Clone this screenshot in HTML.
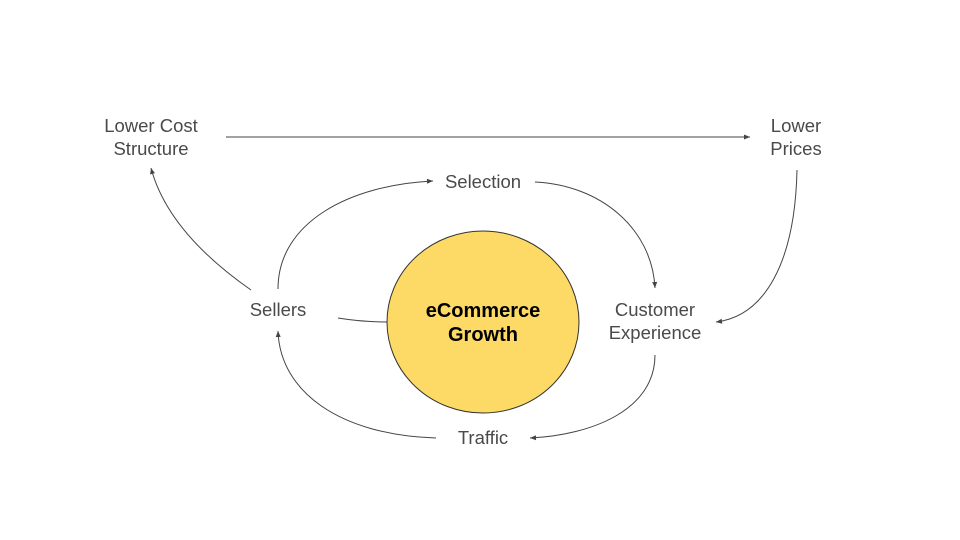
<!DOCTYPE html>
<html><head><style>
html,body{margin:0;padding:0;background:#fff;}
svg{display:block;}
text{font-family:"Liberation Sans",Arial,sans-serif;font-size:18.5px;fill:#4a4a4a;text-anchor:middle;}
</style></head><body>
<svg width="960" height="540" viewBox="0 0 960 540" xmlns="http://www.w3.org/2000/svg">
<defs>
<marker id="a" markerWidth="8" markerHeight="8" refX="7" refY="4" orient="auto" markerUnits="userSpaceOnUse">
<path d="M1,1.5 L7,4 L1,6.5 Z" fill="#444"/>
</marker>
</defs>
<g fill="none" stroke="#444" stroke-width="1">
<path d="M226,137 L750,137" marker-end="url(#a)"/>
<path d="M251,290 Q168,232 151,168" marker-end="url(#a)"/>
<path d="M278,289 C278,222 350,185 433,181" marker-end="url(#a)"/>
<path d="M535,182 C600,185 652,228 655,288" marker-end="url(#a)"/>
<path d="M797,170 C795,262 765,316 716,322" marker-end="url(#a)"/>
<path d="M655,355 C655,410 592,435 530,438" marker-end="url(#a)"/>
<path d="M436,438 C340,435 280,392 278,331" marker-end="url(#a)"/>
<path d="M338,318 Q362,322 388,322"/>
</g>
<ellipse cx="483" cy="322" rx="96" ry="91" fill="#fdd966" stroke="#333" stroke-width="1"/>
<text x="151" y="132">Lower Cost</text>
<text x="151" y="155">Structure</text>
<text x="796" y="132">Lower</text>
<text x="796" y="155">Prices</text>
<text x="483" y="188">Selection</text>
<text x="278" y="316">Sellers</text>
<text x="655" y="316">Customer</text>
<text x="655" y="339">Experience</text>
<text x="483" y="444">Traffic</text>
<text x="483" y="317" style="font-weight:bold;fill:#000;font-size:20px">eCommerce</text>
<text x="483" y="341" style="font-weight:bold;fill:#000;font-size:20px">Growth</text>
</svg>
</body></html>
